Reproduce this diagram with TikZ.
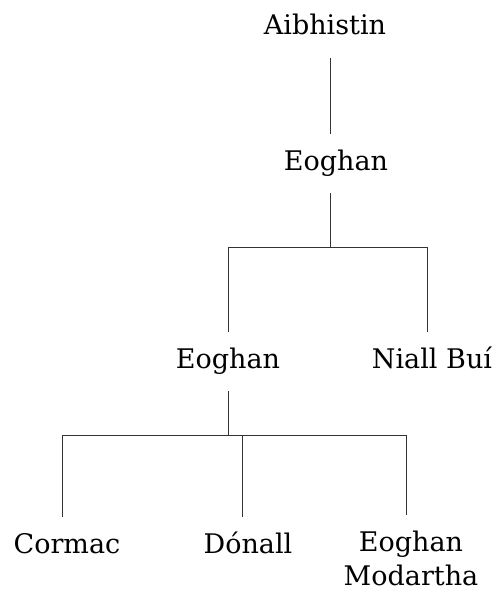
\documentclass[tikz,border=0pt]{standalone}
\usepackage{fontspec}
\setmainfont{DejaVu Serif}
\begin{document}
\begin{tikzpicture}[x=1pt,y=-1pt,
  person/.style={font=\fontsize{27}{37}\selectfont, inner xsep=2pt, inner ysep=16pt,
                 text height=20pt, text depth=7pt},
  twoline/.style={font=\fontsize{27}{34}\selectfont, align=center, inner xsep=2pt, inner ysep=1pt,
                  text depth=0pt},
  link/.style={draw=black!80, line width=1pt}]
\useasboundingbox (0,0) rectangle (498,594);

% people
\node[person, anchor=base] (aib)    at (325,35)  {Aibhistin};
\node[person, anchor=base] (eog1)   at (336,170) {Eoghan};
\node[person, anchor=base] (eog2)   at (228,368) {Eoghan};
\node[person, anchor=base] (niall)  at (432,368) {Niall Buí};
\node[person, anchor=base] (cormac) at (67,553)  {Cormac};
\node[person, anchor=base] (donall) at (248,553) {Dónall};
\node[twoline, anchor=north] (eogm) at (411,530) {Eoghan\\Modartha};

% junction points of the family lines
\coordinate (j1) at (330,247);
\coordinate (t1) at (228,247);
\coordinate (t2) at (427,247);
\coordinate (b0) at (228,435);
\coordinate (b1) at (62,435);
\coordinate (b2) at (242,435);
\coordinate (b3) at (406,435);

% Aibhistin -> Eoghan
\draw[link] (aib.south -| j1) -- (eog1.north -| j1);
% Eoghan -> his two sons
\draw[link] (eog1.south -| j1) -- (j1);
\draw[link] (t1) -- (t2);
\draw[link] (t1) -- (eog2.north -| t1);
\draw[link] (t2) -- (niall.north -| t2);
% Eoghan -> his three sons
\draw[link] (eog2.south -| b0) -- (b0);
\draw[link] (b1) -- (b3);
\draw[link] (b1) -- (cormac.north -| b1);
\draw[link] (b2) -- (donall.north -| b2);
\draw[link, shorten >=15pt] (b3) -- (eogm.north -| b3);
\end{tikzpicture}
\end{document}
